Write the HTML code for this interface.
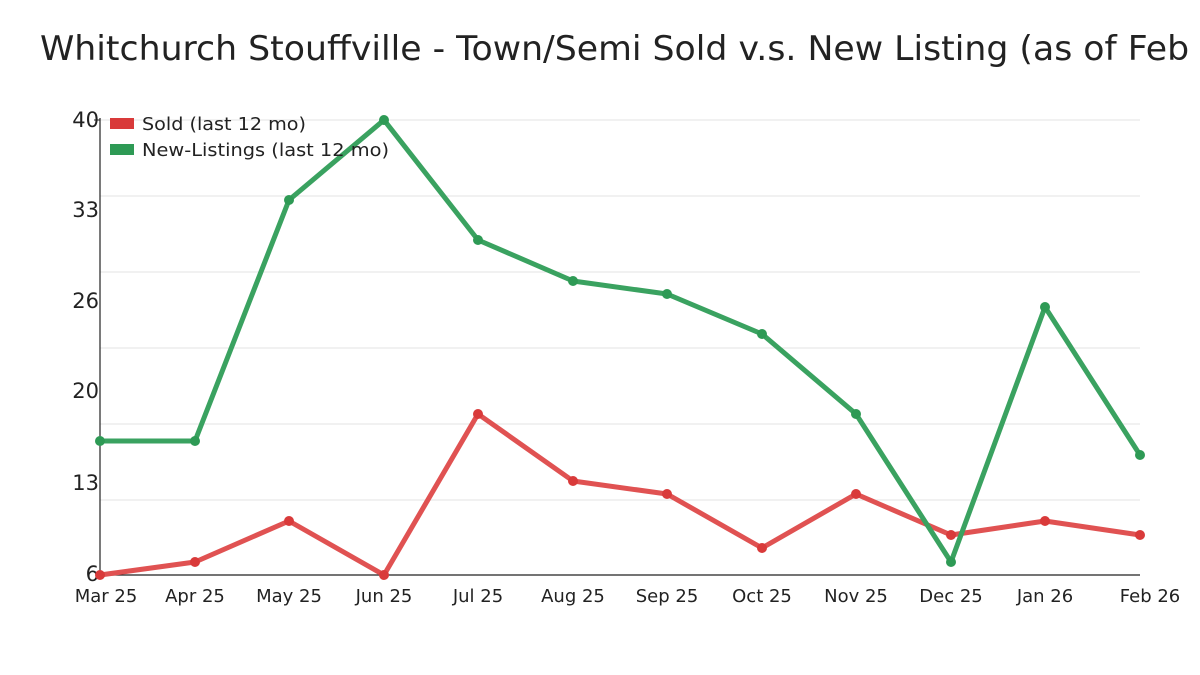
<!DOCTYPE html><html><head><style>body{margin:0;background:#fff}svg{display:block}text{font-family:"DejaVu Sans","Liberation Sans",sans-serif;fill:#222}</style></head><body>
<svg width="1200" height="675" viewBox="0 0 1200 675">
<text x="40" y="60" font-size="34" textLength="1262" lengthAdjust="spacingAndGlyphs">Whitchurch Stouffville - Town/Semi Sold v.s. New Listing (as of Feb 2026)</text>
<g stroke="#e3e3e3" stroke-width="1">
<line x1="100" y1="120" x2="1140" y2="120"/><line x1="100" y1="196" x2="1140" y2="196"/><line x1="100" y1="272" x2="1140" y2="272"/><line x1="100" y1="348" x2="1140" y2="348"/><line x1="100" y1="424" x2="1140" y2="424"/><line x1="100" y1="500" x2="1140" y2="500"/>
</g>
<line x1="100" y1="118" x2="100" y2="575" stroke="#222" stroke-width="1.2"/>
<line x1="100" y1="575" x2="1140" y2="575" stroke="#222" stroke-width="1.2"/>
<line x1="94" y1="120" x2="100" y2="120" stroke="#222"/>
<g font-size="21" text-anchor="end">
<text x="99" y="127">40</text><text x="99" y="217">33</text><text x="99" y="308">26</text><text x="99" y="398">20</text><text x="99" y="490">13</text><text x="99" y="581">6</text>
</g>
<g font-size="18" text-anchor="middle">
<text x="106" y="602">Mar 25</text><text x="195" y="602">Apr 25</text><text x="289" y="602">May 25</text><text x="384" y="602">Jun 25</text><text x="478" y="602">Jul 25</text><text x="573" y="602">Aug 25</text><text x="667" y="602">Sep 25</text><text x="762" y="602">Oct 25</text><text x="856" y="602">Nov 25</text><text x="951" y="602">Dec 25</text><text x="1045" y="602">Jan 26</text><text x="1150" y="602">Feb 26</text>
</g>
<polyline fill="none" stroke="#e05252" stroke-width="5" stroke-linejoin="round" points="100,575 195,562 289,521 384,575 478,414 573,481 667,494 762,548 856,494 951,535 1045,521 1140,535"/>
<g fill="#d93a3a"><circle cx="100" cy="575" r="5"/><circle cx="195" cy="562" r="5"/><circle cx="289" cy="521" r="5"/><circle cx="384" cy="575" r="5"/><circle cx="478" cy="414" r="5"/><circle cx="573" cy="481" r="5"/><circle cx="667" cy="494" r="5"/><circle cx="762" cy="548" r="5"/><circle cx="856" cy="494" r="5"/><circle cx="951" cy="535" r="5"/><circle cx="1045" cy="521" r="5"/><circle cx="1140" cy="535" r="5"/></g>
<polyline fill="none" stroke="#3aa260" stroke-width="5" stroke-linejoin="round" points="100,441 195,441 289,200 384,120 478,240 573,281 667,294 762,334 856,414 951,562 1045,307 1140,455"/>
<g fill="#2e9a55"><circle cx="100" cy="441" r="5"/><circle cx="195" cy="441" r="5"/><circle cx="289" cy="200" r="5"/><circle cx="384" cy="120" r="5"/><circle cx="478" cy="240" r="5"/><circle cx="573" cy="281" r="5"/><circle cx="667" cy="294" r="5"/><circle cx="762" cy="334" r="5"/><circle cx="856" cy="414" r="5"/><circle cx="951" cy="562" r="5"/><circle cx="1045" cy="307" r="5"/><circle cx="1140" cy="455" r="5"/></g>
<rect x="110" y="118" width="24" height="11" fill="#d93a3a"/>
<rect x="110" y="144" width="24" height="11" fill="#2e9a55"/>
<g font-size="18"><text x="142" y="130" textLength="164" lengthAdjust="spacingAndGlyphs">Sold (last 12 mo)</text><text x="142" y="156" textLength="247" lengthAdjust="spacingAndGlyphs">New-Listings (last 12 mo)</text></g>
</svg></body></html>
